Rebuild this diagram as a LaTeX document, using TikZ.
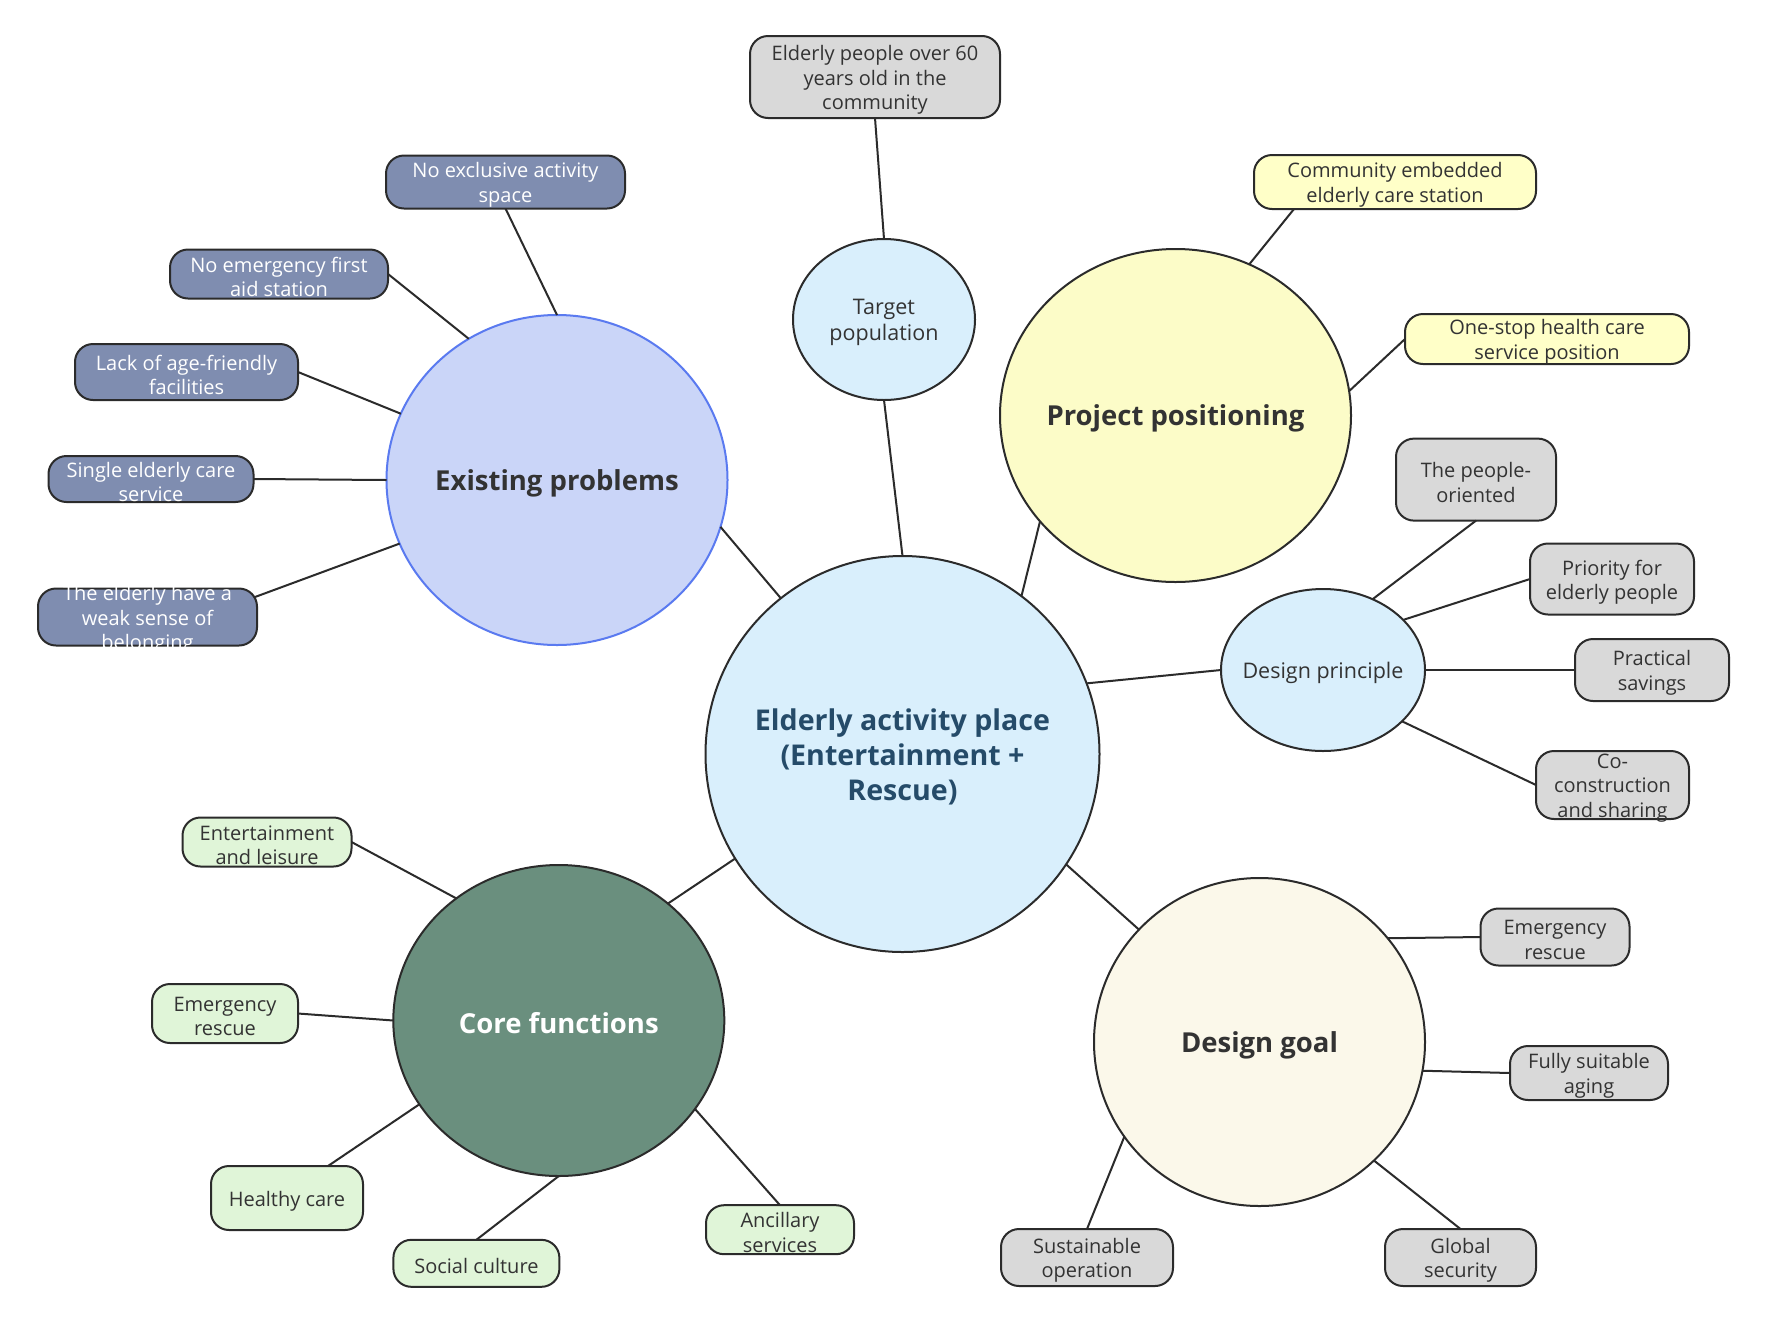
\documentclass[tikz,border=0pt]{standalone}
\usepackage{fontspec}
\setmainfont{Open Sans}
\usetikzlibrary{shapes.geometric,calc}
\definecolor{lc}{HTML}{2B2B2B}
\definecolor{cfill}{HTML}{D9EFFC}
\definecolor{epfill}{HTML}{CAD5F8}
\definecolor{epline}{HTML}{5A7AF0}
\definecolor{epsub}{HTML}{7F8DB0}
\definecolor{ppfill}{HTML}{FCFCC8}
\definecolor{ppsub}{HTML}{FFFFC8}
\definecolor{gsub}{HTML}{D9D9D9}
\definecolor{dgfill}{HTML}{FBF8EA}
\definecolor{cffill}{HTML}{6A8F7E}
\definecolor{cfsub}{HTML}{E0F5D8}
\definecolor{ctext}{HTML}{254B69}
\definecolor{txtc}{HTML}{333333}
\newcommand\nd[8]{%
  \node[#6, minimum width=#4pt, minimum height=#5pt] (#1) at (#2,#3) {};
  \node[#7] (#1-t) at (#1.center) {#8};
}
\tikzset{
  ell/.style={ellipse, draw=lc, line width=2pt, inner sep=0pt, outer sep=0pt},
  rb/.style={rectangle, rounded corners=18pt, draw=lc, line width=2pt, inner sep=0pt, outer sep=0pt},
  tsm/.style={align=center, inner sep=0pt, yshift=-3pt, text=txtc, font=\fontsize{20}{24.5}\selectfont},
  tmd/.style={align=center, inner sep=0pt, yshift=-3pt, text=txtc, font=\fontsize{21.5}{25.5}\selectfont},
  tbig/.style={align=center, inner sep=0pt, yshift=-3pt, text=txtc, font=\fontsize{27.5}{33}\selectfont\bfseries},
  conn/.style={draw=lc, line width=2pt},
}
\begin{document}
\begin{tikzpicture}[x=1pt,y=-1pt]
\fill[white] (0,0) rectangle (1766,1323);
\useasboundingbox (0,0) rectangle (1766,1323);

% central
\nd{c}{902.5}{754}{394}{396}{ell,fill=cfill}{tbig,text=ctext,font=\fontsize{28.6}{35}\selectfont\bfseries}{Elderly activity place\\(Entertainment +\\Rescue)}

% target population
\nd{tp}{884}{319.5}{182}{161}{ell,fill=cfill}{tmd}{Target\\population}
\nd{eb}{875}{77}{250}{82}{rb,fill=gsub}{tsm}{Elderly people over 60\\years old in the\\community}

% project positioning
\nd{pp}{1175.5}{415.5}{351}{333}{ell,fill=ppfill}{tbig}{Project positioning}
\nd{cb}{1395}{182}{282}{54}{rb,fill=ppsub}{tsm}{Community embedded\\elderly care station}
\nd{ob}{1547}{339}{284}{50}{rb,fill=ppsub}{tsm}{One-stop health care\\service position}

% existing problems
\nd{ep}{557}{480}{341}{330}{ell,fill=epfill,draw=epline}{tbig}{Existing problems}
\nd{nx}{505.5}{182}{239}{53}{rb,fill=epsub}{tsm,text=white}{No exclusive activity\\space}
\nd{ne}{279}{274}{218}{49}{rb,fill=epsub}{tsm,text=white}{No emergency first\\aid station}
\nd{la}{186.5}{372}{223}{56}{rb,fill=epsub}{tsm,text=white}{Lack of age-friendly\\facilities}
\nd{se}{151}{479}{205}{46}{rb,fill=epsub}{tsm,text=white}{Single elderly care\\service}
\nd{te}{147.5}{617}{219}{57}{rb,fill=epsub}{tsm,text=white}{The elderly have a\\weak sense of\\belonging}

% design principle
\nd{dp}{1323}{670}{204}{162}{ell,fill=cfill}{tmd}{Design principle}
\nd{po}{1476}{479.6}{160}{82}{rb,fill=gsub}{tsm}{The people-\\oriented}
\nd{pr}{1612}{579}{164}{71}{rb,fill=gsub}{tsm}{Priority for\\elderly people}
\nd{ps}{1652}{670}{154}{62}{rb,fill=gsub}{tsm}{Practical\\savings}
\nd{cs}{1612.5}{785}{153}{68}{rb,fill=gsub}{tsm}{Co-\\construction\\and sharing}

% design goal
\nd{dg}{1259.5}{1042}{331}{328}{ell,fill=dgfill}{tbig}{Design goal}
\nd{er2}{1555}{937}{149}{57}{rb,fill=gsub}{tsm}{Emergency\\rescue}
\nd{fs}{1589}{1073}{158}{54}{rb,fill=gsub}{tsm}{Fully suitable\\aging}
\nd{gs}{1460.5}{1257.5}{151}{57}{rb,fill=gsub}{tsm}{Global\\security}
\nd{so}{1087}{1257.5}{172}{57}{rb,fill=gsub}{tsm}{Sustainable\\operation}

% core functions
\nd{cf}{558.8}{1020.5}{331}{311}{ell,fill=cffill}{tbig,text=white}{Core functions}
\nd{el}{267}{842}{169}{49}{rb,fill=cfsub}{tsm}{Entertainment\\and leisure}
\nd{er1}{225}{1013.5}{146}{59}{rb,fill=cfsub}{tsm}{Emergency\\rescue}
\nd{hc}{287}{1198}{152}{64}{rb,fill=cfsub}{tsm}{Healthy care}
\nd{sc}{476.4}{1263.3}{166}{47}{rb,fill=cfsub}{tsm}{Social culture}
\nd{as}{780}{1229.7}{148}{49}{rb,fill=cfsub}{tsm}{Ancillary\\services}

% connectors
\draw[conn] (eb.south) -- (tp.north);
\draw[conn] (tp.south) -- (c.90);
\draw[conn] (c.53.5) -- (pp.218.8);
\draw[conn] (pp.64) -- ($(cb.south)+(-101,0)$);
\draw[conn] (pp.8) -- (ob.west);
\draw[conn] (c.128.5) -- (ep.-16.5);
\draw[conn] (ep.north) -- (nx.south);
\draw[conn] (ep.122.9) -- (ne.east);
\draw[conn] (ep.157) -- (la.east);
\draw[conn] (ep.west) -- (se.east);
\draw[conn] (ep.202) -- ($(te.east)+(-2,-20)$);
\draw[conn] (c.21) -- (dp.west);
\draw[conn] (dp.55.3) -- (po.south);
\draw[conn] (dp.32.7) -- (pr.west);
\draw[conn] (dp.east) -- (ps.west);
\draw[conn] (dp.-33) -- (cs.west);
\draw[conn] (c.-34.8) -- (dg.137);
\draw[conn] (dg.39.9) -- (er2.west);
\draw[conn] (dg.-10.6) -- (fs.west);
\draw[conn] (dg.-46.5) -- (gs.north);
\draw[conn] (dg.215.5) -- (so.north);
\draw[conn] (c.212.9) -- (cf.47.2);
\draw[conn] (cf.130.4) -- (el.east);
\draw[conn] (cf.west) -- (er1.east);
\draw[conn] (cf.211.5) -- ($(hc.north)+(41,0)$);
\draw[conn] (cf.south) -- (sc.north);
\draw[conn] (cf.-33.1) -- (as.north);
\end{tikzpicture}
\end{document}
